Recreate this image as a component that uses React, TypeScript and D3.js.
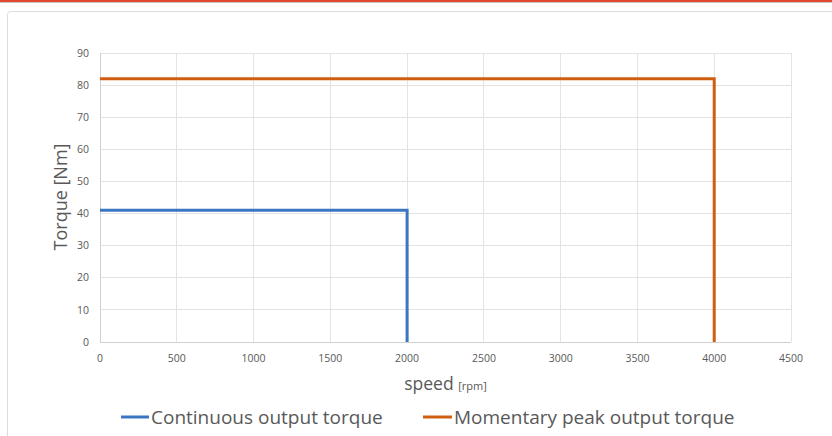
import React from "react";
import * as d3 from "d3";

const xTicks = [0, 500, 1000, 1500, 2000, 2500, 3000, 3500, 4000, 4500];
const yTicks = [0, 10, 20, 30, 40, 50, 60, 70, 80, 90];
const continuousSpeed = [0, 2000, 2000];
const continuousTorque = [41, 41, 0];
const peakSpeed = [0, 4000, 4000];
const peakTorque = [82, 82, 0];
const seriesNames = ["Continuous output torque", "Momentary peak output torque"];
const seriesColors = ["#3a76c2", "#cf5e10"];

const W = 832, H = 436;
const plot = { left: 100, right: 791, top: 53, bottom: 342 };
const FONT = "'Open Sans', sans-serif";
const TEXT = "#595959";

export default function App() {
  const x = d3.scaleLinear().domain([0, 4500]).range([plot.left, plot.right]);
  const y = d3.scaleLinear().domain([0, 90]).range([plot.bottom, plot.top]);
  const line = d3.line<[number, number]>().x(d => x(d[0])).y(d => y(d[1]));
  const series = [
    continuousSpeed.map((s, i) => [s, continuousTorque[i]] as [number, number]),
    peakSpeed.map((s, i) => [s, peakTorque[i]] as [number, number]),
  ];
  return (
    <svg width={W} height={H} style={{ position: "absolute", left: 0, top: 0, background: "#fff" }} fontFamily={FONT}>
      <rect x={0} y={0} width={W} height={2} fill="#e2472d" />
      <rect x={0} y={2} width={W} height={1} fill="#c8c8c8" />
      <rect x={7.5} y={11.5} width={840} height={440} rx={3} fill="#fff" stroke="#dcdcdc" />
      {xTicks.map(t => (
        <line key={"gx" + t} x1={x(t)} x2={x(t)} y1={plot.top} y2={plot.bottom} stroke="#e3e3e3" strokeWidth={1} shapeRendering="crispEdges" />
      ))}
      {yTicks.map(t => (
        <line key={"gy" + t} x1={plot.left} x2={plot.right} y1={y(t)} y2={y(t)} stroke="#e3e3e3" strokeWidth={1} shapeRendering="crispEdges" />
      ))}
      <line x1={plot.left} x2={plot.left} y1={plot.top} y2={plot.bottom} stroke="#d0d0d0" shapeRendering="crispEdges" />
      <line x1={plot.left} x2={plot.right} y1={plot.bottom} y2={plot.bottom} stroke="#d0d0d0" shapeRendering="crispEdges" />
      {yTicks.map(t => (
        <text key={"ty" + t} x={89} y={y(t)} dy="0.35em" textAnchor="end" fontSize={10.5} fill={TEXT}>{t}</text>
      ))}
      {xTicks.map(t => (
        <text key={"tx" + t} x={x(t)} y={358} dy="0.35em" textAnchor="middle" fontSize={10.5} fill={TEXT}>{t}</text>
      ))}
      {series.map((s, i) => (
        <path key={"s" + i} d={line(s) || ""} fill="none" stroke={seriesColors[i]} strokeWidth={3} strokeLinejoin="miter" />
      ))}
      <text transform={`translate(67,197) rotate(-90)`} textAnchor="middle" fontSize={18} fill={TEXT}>Torque [Nm]</text>
      <text x={(plot.left + plot.right) / 2} y={390} textAnchor="middle" fill={TEXT}>
        <tspan fontSize={17.5}>speed </tspan>
        <tspan fontSize={11}>[rpm]</tspan>
      </text>
      <line x1={121} x2={149} y1={417} y2={417} stroke={seriesColors[0]} strokeWidth={3} />
      <text x={151} y={424} fontSize={19} fill={TEXT}>{seriesNames[0]}</text>
      <line x1={423} x2={452} y1={417} y2={417} stroke={seriesColors[1]} strokeWidth={3} />
      <text x={454} y={424} fontSize={19} fill={TEXT}>{seriesNames[1]}</text>
    </svg>
  );
}
